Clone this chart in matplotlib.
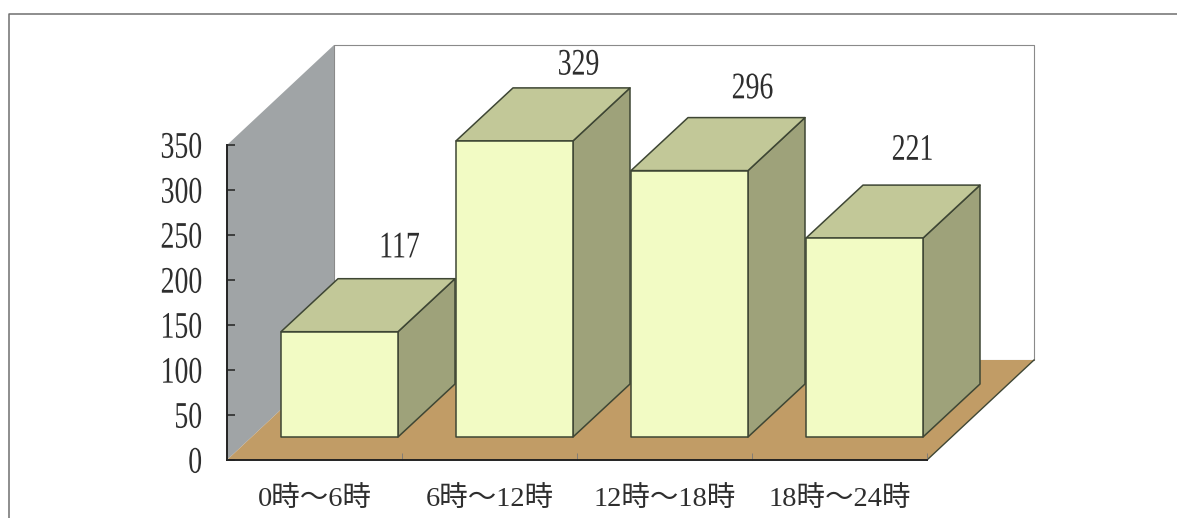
import matplotlib
matplotlib.use('Agg')
import matplotlib.pyplot as plt
import matplotlib.patheffects as pe
from matplotlib.lines import Line2D
from matplotlib.patches import Polygon
from matplotlib.transforms import Affine2D

W, H = 1177, 518

categories = ['0時～6時', '6時～12時', '12時～18時', '18時～24時']
values = [117, 329, 296, 221]
y_ticks = [0, 50, 100, 150, 200, 250, 300, 350]

# nudges for the value labels, pixels from the back top edge of each bar
label_nudge = [(3, 31), (7, 23), (6, 29), (-9, 35)]

WALL = '#a0a4a6'
FLOOR = '#c19c66'
FRONT = '#f2fbc4'
TOP = '#c2c898'
SIDE = '#9ea27a'
EDGE = '#3e4634'
INK = '#2e2e2e'

PX_X = 700 / 4     # pixels per category
PX_Y = 315 / 350   # pixels per value unit

# depth of the box and of the bars, in data units
box_dx, box_dy = 107 / PX_X, 100 / PX_Y
bar_dx, bar_dy = 57 / PX_X, 53 / PX_Y
bar_width = 117 / PX_X
bar_x0, bar_y0 = 54 / PX_X, 23 / PX_Y


# the font here is wider than the one in the scan, so glyphs get pulled up
class Tall(pe.AbstractPathEffect):
    def __init__(self, k=1.35):
        super().__init__()
        self.k = k

    def draw_path(self, renderer, gc, tpath, affine, rgbFace=None):
        stretch = Affine2D().translate(0, -33).scale(1, self.k).translate(0, 33)
        renderer.draw_path(gc, tpath, stretch + affine, rgbFace)


def face(ax, pts, color, ec=EDGE, lw=1.1, z=2):
    ax.add_patch(Polygon(pts, closed=True, facecolor=color, edgecolor=ec,
                         linewidth=lw, joinstyle='round', clip_on=False, zorder=z))


plt.rcParams['font.family'] = ['Liberation Serif', 'Noto Sans CJK JP']

fig = plt.figure(figsize=(W / 100, H / 100), dpi=100)
ax = fig.add_axes([227 / W, 1 - 460 / H, 700 / W, 315 / H])
ax.set_xlim(0, 4)
ax.set_ylim(0, 350)
ax.patch.set_visible(False)

# outer frame of the scan: only the left and top sides are on the crop
fig.add_artist(Line2D([8.5 / W, 8.5 / W, 1], [0, 1 - 13.5 / H, 1 - 13.5 / H],
                      color='#6f6f6f', linewidth=1.1))

# back wall, side wall, floor
face(ax, [(box_dx, box_dy), (4 + box_dx, box_dy), (4 + box_dx, 350 + box_dy), (box_dx, 350 + box_dy)],
     'white', ec='#8a8a8a', lw=0.8, z=1)
face(ax, [(0, 0), (box_dx, box_dy), (box_dx, 350 + box_dy), (0, 350)], WALL, ec='none', z=1)
face(ax, [(0, 0), (4, 0), (4 + box_dx, box_dy), (box_dx, box_dy)], FLOOR, ec='none', z=1)
ax.plot([4, 4 + box_dx], [0, box_dy], color=EDGE, lw=1.0, clip_on=False, zorder=1.5)

# bars drawn left to right so the next front face hides the side behind it
for i, v in enumerate(values):
    x0 = i + bar_x0
    x1 = x0 + bar_width
    y0 = bar_y0
    y1 = y0 + v
    face(ax, [(x1, y0), (x1 + bar_dx, y0 + bar_dy), (x1 + bar_dx, y1 + bar_dy), (x1, y1)], SIDE, z=2 + i)
    face(ax, [(x0, y1), (x1, y1), (x1 + bar_dx, y1 + bar_dy), (x0 + bar_dx, y1 + bar_dy)], TOP, z=2 + i)
    face(ax, [(x0, y0), (x1, y0), (x1, y1), (x0, y1)], FRONT, z=2 + i)
    nx, ny = label_nudge[i]
    ax.annotate(str(v), xy=(x0 + bar_width / 2 + bar_dx, y1 + bar_dy), xytext=(nx * 0.72, ny * 0.72),
                textcoords='offset points', ha='center', va='center', fontsize=20, color=INK,
                annotation_clip=False, zorder=10, path_effects=[Tall()])

for s in ['top', 'right']:
    ax.spines[s].set_visible(False)
for s in ['left', 'bottom']:
    ax.spines[s].set_color('#222222')
    ax.spines[s].set_linewidth(1.4)
    ax.spines[s].set_zorder(9)

ax.set_yticks(y_ticks)
ax.set_xticks(range(1, 5))
ax.set_xticklabels([])
ax.tick_params(axis='y', direction='in', length=6, width=1.1, color='#222222', pad=18,
               labelsize=20, labelcolor=INK)
ax.tick_params(axis='x', direction='in', length=5, width=0.6, color='#777777')
for lab in ax.get_yticklabels():
    lab.set_path_effects([Tall()])

# category names sit on the category, not under the ticks
for i, name in enumerate(categories):
    ax.annotate(name, xy=(i + 0.5, 0), xytext=(0, -28), textcoords='offset points', ha='center',
                va='center', fontsize=20.5, color=INK, annotation_clip=False)

fig.savefig('out.png', dpi=100, facecolor='white')
